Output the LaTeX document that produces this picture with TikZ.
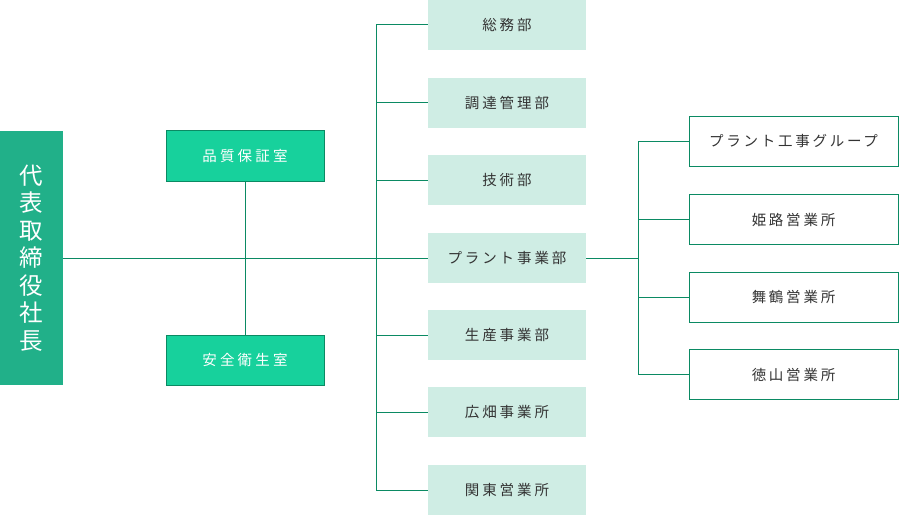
\documentclass[tikz,border=0pt]{standalone}
\usepackage{fontspec}
\setmainfont{Noto Sans CJK JP}
\definecolor{presfill}{HTML}{21B089}
\definecolor{stafffill}{HTML}{17D19C}
\definecolor{linegreen}{HTML}{0B8A63}
\definecolor{midfill}{HTML}{CFEDE4}
\definecolor{txtgray}{HTML}{333333}
\begin{document}
\begin{tikzpicture}[x=1pt,y=-1pt,
  conn/.style={draw=linegreen,line width=1pt},
  staffbox/.style={draw=linegreen,line width=1pt,fill=stafffill,text=white,minimum width=158pt,minimum height=50pt,inner sep=0pt,font=\fontsize{14.5}{16}\selectfont\addfontfeature{LetterSpace=22}},
  midbox/.style={fill=midfill,text=txtgray,minimum width=158pt,minimum height=50pt,inner sep=0pt,font=\fontsize{14.5}{16}\selectfont\addfontfeature{LetterSpace=20}},
  rightbox/.style={draw=linegreen,line width=1pt,fill=white,text=txtgray,minimum width=209pt,minimum height=50pt,inner sep=0pt,font=\fontsize{14.5}{16}\selectfont\addfontfeature{LetterSpace=19}}
]
\useasboundingbox (0,0) rectangle (899,516);
% president
\node[fill=presfill,text=white,minimum width=63pt,minimum height=254pt,inner sep=0pt,align=center,font=\fontsize{23.5}{27.5}\selectfont] (pres) at (31.5,258) {代\\表\\取\\締\\役\\社\\長};
% staff
\node[staffbox] (qa) at (245,156) {品質保証室};
\node[staffbox] (sa) at (245,360) {安全衛生室};
% middle
\node[midbox] (m1) at (507,25) {総務部};
\node[midbox] (m2) at (507,103) {調達管理部};
\node[midbox] (m3) at (507,180) {技術部};
\node[midbox] (m4) at (507,258) {プラント事業部};
\node[midbox] (m5) at (507,335) {生産事業部};
\node[midbox] (m6) at (507,412) {広畑事業所};
\node[midbox] (m7) at (507,490) {関東営業所};
% right
\node[rightbox] (r1) at (793.5,141.5) {プラント工事グループ};
\node[rightbox] (r2) at (793.5,219.5) {姫路営業所};
\node[rightbox] (r3) at (793.5,297) {舞鶴営業所};
\node[rightbox] (r4) at (793.5,374.5) {徳山営業所};
% coordinates
\coordinate (b1) at (376,25);
\coordinate (b2) at (376,103);
\coordinate (b3) at (376,180);
\coordinate (b5) at (376,335);
\coordinate (b6) at (376,412);
\coordinate (b7) at (376,490);
\coordinate (rb1) at (638,141.5);
\coordinate (rb2) at (638,219.5);
\coordinate (rb3) at (638,297);
\coordinate (rb4) at (638,374.5);
\coordinate (rj) at (638,258);
% lines
\draw[conn] (pres.east) -- (m4.west);
\draw[conn] (qa.south) -- (sa.north);
\draw[conn] (b1) -- (b7);
\draw[conn] (b1) -- (m1.west);
\draw[conn] (b2) -- (m2.west);
\draw[conn] (b3) -- (m3.west);
\draw[conn] (b5) -- (m5.west);
\draw[conn] (b6) -- (m6.west);
\draw[conn] (b7) -- (m7.west);
\draw[conn] (m4.east) -- (rj);
\draw[conn] (rb1) -- (rb4);
\draw[conn] (rb1) -- (r1.west);
\draw[conn] (rb2) -- (r2.west);
\draw[conn] (rb3) -- (r3.west);
\draw[conn] (rb4) -- (r4.west);
\end{tikzpicture}
\end{document}
